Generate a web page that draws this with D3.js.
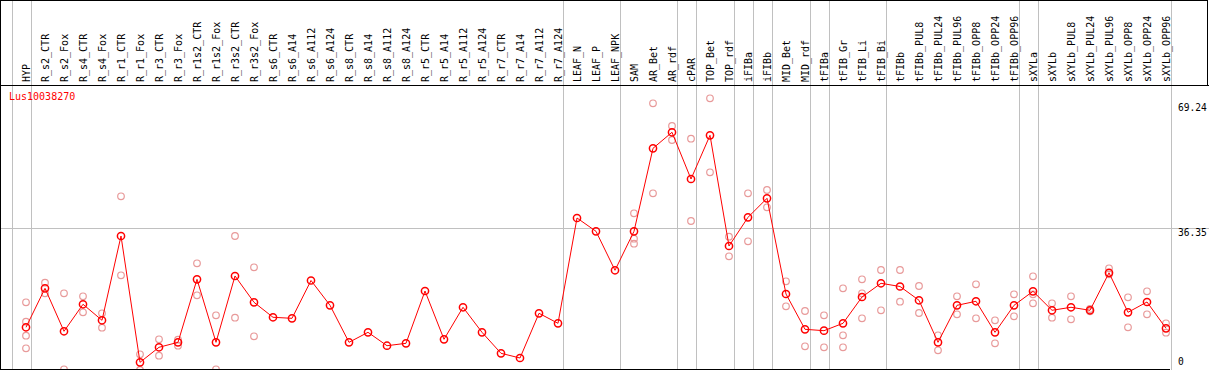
<!DOCTYPE html>
<html>
<head>
<meta charset="utf-8">
<script src="https://cdn.jsdelivr.net/npm/d3@7"></script>
<style>
	body { margin: 0; background: #fff; }
	svg text { font-family: "DejaVu Sans Mono", monospace; }
</style>
</head>
<body>
<div id="chart"></div>
<script>
// expression profile plotter

var geneName = 'Lus10038270';

var columns = ['HYP', 'R_s2_CTR', 'R_s2_Fox', 'R_s4_CTR', 'R_s4_Fox', 'R_r1_CTR', 'R_r1_Fox',
	'R_r3_CTR', 'R_r3_Fox', 'R_r1s2_CTR', 'R_r1s2_Fox', 'R_r3s2_CTR', 'R_r3s2_Fox',
	'R_s6_CTR', 'R_s6_A14', 'R_s6_A112', 'R_s6_A124', 'R_s8_CTR', 'R_s8_A14', 'R_s8_A112', 'R_s8_A124',
	'R_r5_CTR', 'R_r5_A14', 'R_r5_A112', 'R_r5_A124', 'R_r7_CTR', 'R_r7_A14', 'R_r7_A112', 'R_r7_A124',
	'LEAF_N', 'LEAF_P', 'LEAF_NPK', 'SAM', 'AR_Bet', 'AR_rdf', 'cPAR', 'TOP_Bet', 'TOP_rdf',
	'iFIBa', 'iFIBb', 'MID_Bet', 'MID_rdf', 'tFIBa', 'tFIB_Gr', 'tFIB_Li', 'tFIB_Bi',
	'tFIBb', 'tFIBb_PUL8', 'tFIBb_PUL24', 'tFIBb_PUL96', 'tFIBb_OPP8', 'tFIBb_OPP24', 'tFIBb_OPP96',
	'sXYLa', 'sXYLb', 'sXYLb_PUL8', 'sXYLb_PUL24', 'sXYLb_PUL96', 'sXYLb_OPP8', 'sXYLb_OPP24', 'sXYLb_OPP96'];

// number of columns in each tissue group, separators drawn between them
var groupSizes = [1, 28, 3, 3, 1, 2, 1, 1, 2, 1, 3, 7, 1, 7];

var means = [11.31, 21.17, 10.30, 17.13, 13.08, 34.40, 2.45,
	6.25, 7.51, 23.45, 7.51, 24.29, 17.63,
	13.84, 13.58, 23.15, 16.87, 7.51, 10.04, 6.65, 7.26,
	20.49, 8.27, 16.37, 10.04, 4.73, 3.54, 14.85, 12.32,
	38.96, 35.59, 25.73, 35.59, 56.59, 60.64, 48.82, 59.88, 31.87,
	39.13, 43.94, 19.73, 10.80, 10.45, 12.32, 18.97, 22.44,
	21.63, 18.14, 7.51, 16.87, 17.89, 10.04, 16.87,
	20.41, 15.61, 16.37, 15.61, 25.09, 15.10, 17.71, 11.05];

var replicates = [[17.63, 12.72, 9.18, 6.00], [22.59, 19.91], [19.91, 0.68], [19.15, 15.10], [14.85, 11.21], [44.45, 24.46], [4.48, 0.51],
	[8.27, 4.12], [8.17, 6.65], [27.50, 19.40], [14.34, 0.68], [34.40, 13.74], [26.49, 9.03],
	[], [], [], [], [], [], [], [],
	[], [], [], [], [], [], [], [],
	[], [], [], [40.15, 33.72, 32.46], [67.97, 45.21], [62.23, 58.69], [59.02, 38.20], [69.24, 50.52], [34.23, 29.27],
	[45.21, 33.06], [46.04, 41.66], [22.94, 16.62], [15.43, 6.50], [14.34, 6.25], [21.17, 9.28, 6.25], [23.45, 19.91, 13.58], [25.80, 15.61],
	[25.80, 17.78], [21.76, 14.93], [9.28, 5.49], [19.15, 14.60], [22.19, 13.58], [13.08, 7.26], [19.66, 14.09],
	[24.21, 19.66, 17.38], [17.38, 13.74], [19.15, 13.33], [15.94, 15.36], [26.23, 24.72], [18.90, 11.31], [20.41, 14.60], [12.32, 9.94]];

var yTicks = [69.24, 36.35, 0];

var W = 1209, H = 370,
	headH = 85, plotRight = 1170, plotBottom = 369;

var svg = d3.select('#chart').append('svg')
	.attr('width', W).attr('height', H);

var x = d3.scalePoint().domain(columns).range([26, 26 + 19 * (columns.length - 1)]);
var y = d3.scaleLinear().domain([0, 69.24]).range([372, 98.3]);

var grid = svg.append('g').attr('shape-rendering', 'crispEdges');

// group separators
var bounds = [-1], acc = -1;
groupSizes.forEach(function (n) { acc += n; bounds.push(acc); });
grid.selectAll('line.sep').data(bounds).enter().append('line')
	.attr('class', 'sep')
	.attr('x1', function (i) { return Math.round(26 + 19 * i + 4.7) + 0.5; })
	.attr('x2', function (i) { return Math.round(26 + 19 * i + 4.7) + 0.5; })
	.attr('y1', 0).attr('y2', H)
	.style('stroke', '#c0c0c0');

// horizontal grid at middle tick
grid.append('line')
	.attr('x1', 0).attr('x2', W)
	.attr('y1', Math.round(y(yTicks[1])) + 0.5).attr('y2', Math.round(y(yTicks[1])) + 0.5)
	.style('stroke', '#c0c0c0');

// frame
var frame = [
	[0, 0.5, 1207, 0.5],
	[1207.5, 0, 1207.5, headH],
	[0, headH + 0.5, W, headH + 0.5],
	[0.5, 0, 0.5, plotBottom],
	[0, plotBottom + 0.5, plotRight, plotBottom + 0.5]
];
grid.selectAll('line.frame').data(frame).enter().append('line')
	.attr('x1', function (d) { return d[0]; }).attr('y1', function (d) { return d[1]; })
	.attr('x2', function (d) { return d[2]; }).attr('y2', function (d) { return d[3]; })
	.style('stroke', '#000');

// column labels
svg.selectAll('text.col').data(columns).enter().append('text')
	.attr('class', 'col')
	.attr('transform', function (d) { return 'translate(' + (x(d) + 4) + ',82) rotate(-90)'; })
	.style('font-size', '10px')
	.style('fill', '#000')
	.text(function (d) { return d; });

// right axis labels
svg.selectAll('text.tick').data(yTicks).enter().append('text')
	.attr('class', 'tick')
	.attr('x', 1178)
	.attr('y', function (d) { return Math.max(110.7, Math.min(365.3, y(d) + 7.7)); })
	.style('font-size', '9.6px')
	.style('fill', '#000')
	.text(function (d) { return d; });

svg.append('text')
	.attr('x', 9).attr('y', 100)
	.style('font-size', '10px')
	.style('fill', '#ff0000')
	.text(geneName);

svg.append('clipPath').attr('id', 'clip')
	.append('rect').attr('x', 1).attr('y', headH + 1).attr('width', plotRight - 1).attr('height', plotBottom - headH - 1);

var plot = svg.append('g').attr('clip-path', 'url(#clip)');

var repPts = [];
replicates.forEach(function (r, i) {
	r.forEach(function (v) { repPts.push({col: columns[i], v: v}); });
});

plot.selectAll('circle.rep').data(repPts).enter().append('circle')
	.attr('class', 'rep')
	.attr('cx', function (d) { return x(d.col); })
	.attr('cy', function (d) { return y(d.v); })
	.attr('r', 3.3)
	.style('fill', 'none')
	.style('stroke', '#e89a9a')
	.style('stroke-width', 1.2);

var line = d3.line()
	.x(function (d, i) { return x(columns[i]); })
	.y(function (d) { return y(d); });

plot.append('path').datum(means)
	.attr('d', line)
	.style('fill', 'none')
	.style('stroke', '#ff0000')
	.style('stroke-width', 1);

plot.selectAll('circle.mean').data(means).enter().append('circle')
	.attr('class', 'mean')
	.attr('cx', function (d, i) { return x(columns[i]); })
	.attr('cy', function (d) { return y(d); })
	.attr('r', 3.6)
	.style('fill', 'none')
	.style('stroke', '#ff0000')
	.style('stroke-width', 1.5);
</script>
</body>
</html>
